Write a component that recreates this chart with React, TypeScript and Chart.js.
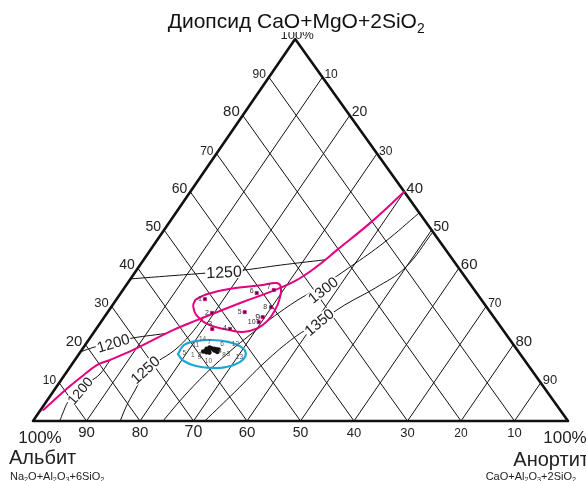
import React, { useEffect, useRef } from "react";
import { Chart, registerables } from "chart.js";

Chart.register(...registerables);

// Compositions are [anorthite %, diopside %]; albite makes up the rest to 100 %.
type Comp = [number, number];

const GRID_STEPS = [10, 20, 30, 40, 50, 60, 70, 80, 90];
const DI_TICKS = ["10", "20", "30", "40", "50", "60", "70", "80", "90"]; // left side
const AN_TICKS = ["10", "20", "30", "40", "50", "60", "70", "80", "90"]; // right side
const AB_TICKS = ["90", "80", "70", "60", "50", "40", "30", "20", "10"]; // base

// Diopside / plagioclase cotectic
const cotectic: Comp[] = [
  [0.5, 2.9], [1.0, 4.5], [1.9, 7.6], [3.3, 11.3], [4.8, 14.7], [6.6, 16.0],
  [9.6, 18.6], [14.5, 23.8], [17.7, 26.4], [23.6, 30.9], [27.8, 33.8],
  [31.0, 36.6], [33.1, 40.1], [34.9, 44.8], [37.6, 51.8], [40.0, 60.0],
];

// Field of group I samples
const groupOneField: Comp[] = [
  [14.8, 31.7], [16.2, 33.2], [19.9, 34.6], [25.5, 35.6], [27.9, 36.1],
  [29.3, 34.8], [30.5, 31.7], [31.0, 29.1], [31.0, 26.4], [30.1, 24.3],
  [27.8, 23.3], [25.1, 23.8], [20.8, 25.1], [17.2, 27.5], [15.2, 30.1],
];

// Field of group II samples
const groupTwoField: Comp[] = [
  [18.5, 17.5], [18.5, 19.9], [20.2, 20.9], [22.9, 21.2], [26.3, 20.7],
  [29.4, 19.4], [31.2, 17.5], [31.1, 15.4], [29.1, 14.1], [26.5, 13.9],
  [23.4, 14.4], [20.5, 15.7],
];

// Liquidus isotherms, diopside field
const isoDi1200: Comp[] = [[0, 18.1], [2.1, 19.4], [7.2, 21.5], [13.5, 22.9]];
const isoDi1250: Comp[] = [[0, 37.2], [7.0, 38.0], [13.2, 38.7], [19.9, 39.5], [26.2, 40.8], [33.9, 42.2]];

// Liquidus isotherms, plagioclase field
const isoPl1200: Comp[] = [[5.0, 0], [4.5, 2.4], [4.1, 5.0], [4.7, 7.6], [5.6, 10.2], [6.5, 12.3], [6.6, 16.0]];
const isoPl1250: Comp[] = [[16.3, 0], [15.5, 4.2], [15.0, 9.2], [14.4, 13.4], [15.7, 15.7], [17.4, 18.6], [18.3, 22.5], [18.6, 26.9]];
const isoPl1300: Comp[] = [[24.3, 0], [25.1, 6.8], [26.8, 14.7], [29.5, 22.5], [33.2, 30.4], [36.8, 35.6], [39.5, 40.3], [42.8, 46.9], [45.5, 54.5]];
const isoPl1350: Comp[] = [[32.1, 0], [34.0, 7.6], [35.8, 15.4], [38.2, 22.0], [40.8, 25.9], [43.4, 30.4], [46.9, 34.8], [49.9, 40.1], [50.5, 49.5]];

const isoLabels = ["1200", "1250", "1200", "1250", "1300", "1350"];
const isoLabelAt: Comp[] = [[5.0, 20.4], [16.6, 39.0], [4.9, 7.9], [14.4, 13.4], [37.4, 34.3], [40.8, 25.9]];

// Sample compositions
const groupOneIds = ["1", "2", "3", "4", "5", "6", "7", "8", "9", "10"];
const groupOne: Comp[] = [
  [16.5, 31.9], [19.6, 28.3], [21.7, 24.1], [25.0, 24.1], [25.6, 28.5],
  [25.4, 33.5], [28.2, 34.3], [29.9, 29.8], [29.6, 27.2], [29.5, 25.9],
];
const groupTwoIds = ["1", "2", "3", "4", "5", "6", "7", "8", "9", "10", "11", "12", "13", "14"];
const groupTwo: Comp[] = [
  [23.3, 18.4], [23.7, 18.7], [25.3, 18.3], [24.6, 18.9], [22.9, 18.2],
  [25.0, 18.8], [24.0, 19.0], [24.8, 18.5], [23.6, 18.0], [24.2, 17.9],
  [23.2, 18.9], [25.5, 18.7], [25.6, 18.1], [23.6, 19.2],
];

// ---- drawing styles ----
const FONT = '"Liberation Sans", Arial, Helvetica, sans-serif';
const INK = "#111111";
const MAGENTA = "#e4007f";
const CYAN = "#1ea6d8";
const SKEW = 0.49; // horizontal position of the diopside apex along the base

const LEFT_SIZE = [12, 15, 13, 14, 14, 14, 12, 15, 12];
const RIGHT_SIZE = [12, 14, 12, 15, 14, 15, 12, 15, 13];
const BOTTOM_SIZE = [15, 15, 16, 15, 14, 13, 13, 12, 13];
const ISO_ANGLE = [-17, -3, -50, -42, -38, -40];
const ISO_SIZE = [15, 16, 14, 15, 15, 15];
const ONE_OFFSET: [number, number][] = [
  [-5, 0], [-5, 0], [-2, -5], [-5, -1], [-5, 0], [-5, -2], [-5, -3], [-6, 0], [-5, 0], [-7, 0],
];
const TWO_OFFSET: [number, number][] = [
  [-13, 4], [-9, 6], [12, 3], [6, 2], [-19, 2], [6, -5], [-2, -6], [10, 5], [-7, 5], [-1, 9],
  [-11, -4], [17, -5], [22, 5], [-7, -8],
];

const toXY = (c: Comp) => ({ x: c[0] + SKEW * c[1], y: c[1] });

function lineSet(data: Comp[], color: string, width: number, tension: number, order: number) {
  return {
    data: data.map(toXY),
    showLine: true,
    borderColor: color,
    borderWidth: width,
    pointRadius: 0,
    pointHoverRadius: 0,
    tension,
    fill: false,
    order,
    clip: false as const,
    borderCapStyle: "round" as const,
    borderJoinStyle: "round" as const,
  };
}

function drawRich(ctx: CanvasRenderingContext2D, src: string, x: number, y: number, size: number, align: "left" | "right" | "center") {
  const parts: { t: string; sub: boolean }[] = [];
  for (let i = 0; i < src.length; i++) {
    if (src[i] === "_") {
      parts.push({ t: src[i + 1], sub: true });
      i++;
    } else {
      const last = parts[parts.length - 1];
      if (last && !last.sub) last.t += src[i];
      else parts.push({ t: src[i], sub: false });
    }
  }
  const subSize = size * 0.66;
  let w = 0;
  for (const p of parts) {
    ctx.font = `${p.sub ? subSize : size}px ${FONT}`;
    w += ctx.measureText(p.t).width;
  }
  let cx = align === "center" ? x - w / 2 : align === "right" ? x - w : x;
  ctx.textAlign = "left";
  ctx.textBaseline = "alphabetic";
  for (const p of parts) {
    ctx.font = `${p.sub ? subSize : size}px ${FONT}`;
    ctx.fillText(p.t, cx, p.sub ? y + size * 0.22 : y);
    cx += ctx.measureText(p.t).width;
  }
}

const labelsPlugin = {
  id: "ternaryLabels",
  afterDatasetsDraw(chart: any) {
    const ctx: CanvasRenderingContext2D = chart.ctx;
    const sx = chart.scales.x;
    const sy = chart.scales.y;
    const P = (c: Comp) => {
      const p = toXY(c);
      return { x: sx.getPixelForValue(p.x), y: sy.getPixelForValue(p.y) };
    };
    ctx.save();
    ctx.fillStyle = "#222";

    // edge ticks
    GRID_STEPS.forEach((v, i) => {
      const l = P([0, v]);
      ctx.font = `${LEFT_SIZE[i]}px ${FONT}`;
      ctx.textAlign = "right";
      ctx.textBaseline = "alphabetic";
      ctx.fillText(DI_TICKS[i], l.x - 3, l.y + 1);

      const r = P([v, 100 - v]);
      ctx.font = `${RIGHT_SIZE[i]}px ${FONT}`;
      ctx.textAlign = "left";
      ctx.fillText(AN_TICKS[i], r.x + 2, r.y + 1);

      const b = P([v, 0]);
      ctx.font = `${BOTTOM_SIZE[i]}px ${FONT}`;
      ctx.textAlign = "center";
      ctx.fillText(AB_TICKS[i], b.x, b.y + 16);
    });

    // corners
    const a = P([0, 0]);
    const bb = P([100, 0]);
    const c = P([0, 100]);
    ctx.font = `17px ${FONT}`;
    ctx.textAlign = "center";
    ctx.fillText("100%", a.x + 7, a.y + 22);
    ctx.fillText("100%", bb.x - 3, bb.y + 22);
    ctx.font = `13px ${FONT}`;
    ctx.fillText("100%", c.x + 2, c.y);

    // title over a white band
    ctx.fillStyle = "#ffffff";
    ctx.fillRect(150, 0, 290, c.y - 7);
    ctx.fillStyle = "#111";
    drawRich(ctx, "Диопсид CaO+MgO+2SiO_2", c.x + 1, 28, 21, "center");

    // end members
    ctx.fillStyle = "#222";
    ctx.font = `20px ${FONT}`;
    ctx.textAlign = "left";
    ctx.fillText("Альбит", 9, 464);
    ctx.textAlign = "right";
    ctx.fillText("Анортит", 589, 466);
    drawRich(ctx, "Na_2O+Al_2O_3+6SiO_2", 10, 480, 11, "left");
    drawRich(ctx, "CaO+Al_2O_3+2SiO_2", 576, 480, 11, "right");

    // isotherm labels
    isoLabels.forEach((t, i) => {
      const p = P(isoLabelAt[i]);
      ctx.save();
      ctx.translate(p.x, p.y);
      ctx.rotate((ISO_ANGLE[i] * Math.PI) / 180);
      ctx.font = `${ISO_SIZE[i]}px ${FONT}`;
      const w = ctx.measureText(t).width;
      ctx.fillStyle = "#ffffff";
      ctx.fillRect(-w / 2 - 1, -ISO_SIZE[i] * 0.42, w + 2, ISO_SIZE[i] * 0.84);
      ctx.fillStyle = "#222";
      ctx.textAlign = "center";
      ctx.textBaseline = "middle";
      ctx.fillText(t, 0, 1);
      ctx.restore();
    });

    // sample numbers
    ctx.textAlign = "center";
    ctx.textBaseline = "middle";
    groupOne.forEach((s, i) => {
      const p = P(s);
      ctx.font = `${i === 8 ? 9 : 7}px ${FONT}`;
      ctx.fillStyle = "#333";
      ctx.fillText(groupOneIds[i], p.x + ONE_OFFSET[i][0], p.y + ONE_OFFSET[i][1]);
    });
    groupTwo.forEach((s, i) => {
      const p = P(s);
      ctx.font = `6.5px ${FONT}`;
      ctx.fillStyle = "#555";
      ctx.fillText(groupTwoIds[i], p.x + TWO_OFFSET[i][0], p.y + TWO_OFFSET[i][1]);
    });
    ctx.restore();
  },
};

export default function App() {
  const ref = useRef<HTMLCanvasElement | null>(null);

  useEffect(() => {
    if (!ref.current) return;
    const datasets: any[] = [];

    // grid: constant anorthite (parallel to the left side) and constant albite (parallel to the right side)
    GRID_STEPS.forEach((v) => {
      datasets.push(lineSet([[v, 0], [v, 100 - v]], INK, 1, 0, 60));
      datasets.push(lineSet([[100 - v, 0], [0, 100 - v]], INK, 1, 0, 60));
    });

    [isoDi1200, isoDi1250, isoPl1200, isoPl1250, isoPl1300, isoPl1350].forEach((iso) =>
      datasets.push(lineSet(iso, INK, 1, 0.4, 50))
    );

    datasets.push(lineSet([[0, 0], [100, 0], [0, 100], [0, 0]], INK, 2.6, 0, 40));
    datasets.push(lineSet(cotectic, MAGENTA, 2, 0.4, 30));
    datasets.push(lineSet([...groupOneField, groupOneField[0]], MAGENTA, 2, 0.45, 25));
    datasets.push(lineSet([...groupTwoField, groupTwoField[0]], CYAN, 2.2, 0.45, 25));

    datasets.push({
      data: groupOne.map(toXY),
      showLine: false,
      pointRadius: 2.2,
      pointStyle: "rect",
      backgroundColor: "#4a1038",
      borderColor: MAGENTA,
      borderWidth: 0.8,
      order: 10,
      clip: false,
    });
    datasets.push({
      data: groupTwo.map(toXY),
      showLine: false,
      pointRadius: 2.3,
      backgroundColor: "#111",
      borderColor: "#111",
      borderWidth: 0,
      order: 10,
      clip: false,
    });

    const chart = new Chart(ref.current, {
      type: "scatter",
      data: { datasets },
      options: {
        responsive: false,
        animation: false,
        devicePixelRatio: 1,
        layout: { padding: { left: 33, right: 18, top: 39, bottom: 60 } },
        scales: {
          x: { type: "linear", min: 0, max: 100, display: false },
          y: { type: "linear", min: 0, max: 100, display: false },
        },
        plugins: { legend: { display: false }, tooltip: { enabled: false } },
        events: [],
      },
      plugins: [labelsPlugin],
    });
    return () => chart.destroy();
  }, []);

  return (
    <div style={{ position: "fixed", left: 0, top: 0, width: 586, height: 481, background: "#fff" }}>
      <canvas ref={ref} width={586} height={481} style={{ display: "block" }} />
    </div>
  );
}
